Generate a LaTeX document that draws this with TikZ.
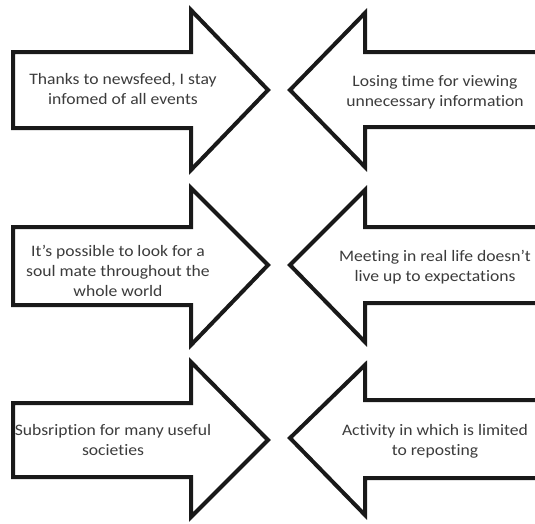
\documentclass[tikz,border=0pt]{standalone}
\usepackage{graphicx}
\usepackage{fontspec}
\setmainfont[Ligatures={NoCommon}]{Carlito}
\definecolor{txt}{HTML}{3C3C3C}
\tikzset{
  bigarrow/.style={draw=black!90, line width=4pt, line join=miter, fill=white},
  lbl/.style={text=txt, font=\fontsize{16}{20}\selectfont, inner sep=0pt, anchor=base}
}
\newcommand{\lbltext}[1]{\scalebox{1.1}[1]{\begin{tabular}[t]{@{}c@{}}#1\end{tabular}}}
\begin{document}
\begin{tikzpicture}[x=1pt,y=-1pt]
\useasboundingbox (0,0) rectangle (535,523);
\clip (0,0) rectangle (535,523);
% right-pointing arrows
\draw[bigarrow] (13,52) -- (191,52) -- (191,10) -- (268,90) -- (191,170) -- (191,128) -- (13,128) -- cycle;
\draw[bigarrow] (13,227) -- (191,227) -- (191,188) -- (268,265) -- (191,345) -- (191,305) -- (13,305) -- cycle;
\draw[bigarrow] (13,403) -- (191,403) -- (191,362) -- (268,440) -- (191,517) -- (191,477) -- (13,477) -- cycle;
% left-pointing arrows
\draw[bigarrow] (545,52) -- (365,52) -- (365,13) -- (290,90) -- (365,167) -- (365,127) -- (545,127);
\draw[bigarrow] (545,227) -- (365,227) -- (365,190) -- (290,265) -- (365,342) -- (365,303) -- (545,303);
\draw[bigarrow] (545,400) -- (365,400) -- (365,365) -- (290,438) -- (365,515) -- (365,478) -- (545,478);
% labels
\node[lbl] (t1) at (123,84) {\lbltext{Thanks to newsfeed, I stay\\infomed of all events}};
\node[lbl] (t2) at (435,86) {\lbltext{Losing time for viewing\\unnecessary information}};
\node[lbl] (t3) at (118,256) {\lbltext{It's possible to look for a\\soul mate throughout the\\whole world}};
\node[lbl] (t4) at (435,261) {\lbltext{Meeting in real life doesn't\\live up to expectations}};
\node[lbl] (t5) at (113,435) {\lbltext{Subsription for many useful\\societies}};
\node[lbl] (t6) at (435,435) {\lbltext{Activity in which is limited\\to reposting}};
\end{tikzpicture}
\end{document}
